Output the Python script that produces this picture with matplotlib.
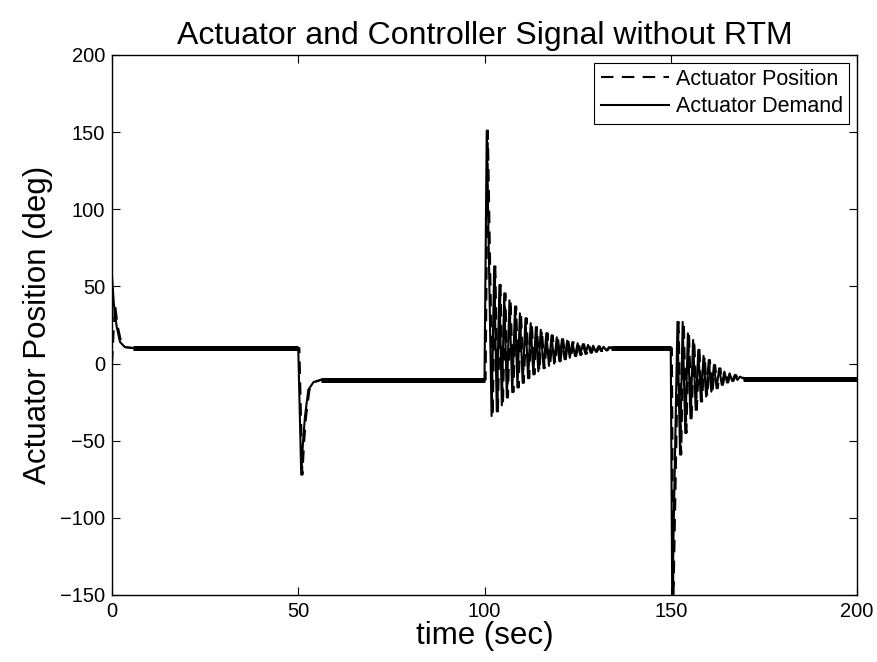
import numpy as np
import matplotlib
matplotlib.use("Agg")
import matplotlib.pyplot as plt

plt.rcParams['font.family'] = ['Liberation Sans', 'DejaVu Sans']

# ---- data (time in s, angle in deg) ----
# actuator demand: start transient, dip at 50 s, spike at 100 s, drop at 150 s
start_t = [0.0, 0.5, 1.25, 2.15, 3.5, 5.7]
start_v = [57, 38.5, 24, 14, 10.6, 10]

dip_t = [50.0, 50.8, 51.3, 51.8, 52.7, 54.1, 56.0]
dip_v = [10, -72, -50, -34.4, -17, -12, -10.5]

spike_t = [100.0, 100.6, 101.9, 102.6, 103.3, 104.0, 104.65, 105.3, 106.0, 106.7,
           107.45, 108.2, 108.85, 109.5, 110.25, 111.0, 111.7, 112.4, 113.1, 113.8,
           114.45, 115.1, 115.85, 116.6, 117.3, 118.0, 118.7, 119.4, 120.1, 120.8,
           121.5, 122.2, 122.9, 123.6, 124.3, 125.0, 125.7, 126.4, 127.1, 127.8,
           128.5, 129.2, 129.9, 130.6, 131.3, 132.0, 132.7, 133.4, 134.0]
spike_v = [-10.5, 151, -34, 63, -31, 51, -27, 45.5, -22, 41,
           -18.5, 37, -15.5, 32.6, -12.5, 29.4, -9.5, 26.2, -7, 23.6,
           -5, 21.9, -3, 19.7, -1.5, 18.3, 0, 17, 1.5, 15.8,
           2.8, 14.8, 3.8, 13.9, 4.8, 13.2, 5.6, 12.6, 6.3, 12.1,
           7, 11.6, 7.6, 11.2, 8.1, 10.9, 8.5, 10.6, 10]

drop_t = [150.0, 150.4, 151.8, 152.5, 153.2, 153.9, 154.6, 155.3, 156.0, 156.7,
          157.4, 158.1, 158.8, 159.5, 160.2, 160.9, 161.6, 162.3, 163.0, 163.7,
          164.4, 165.1, 165.8, 166.5, 167.2, 167.9, 168.6, 169.5]
drop_v = [10, -156, 27, -59, 27, -45, 19.6, -35.5, 15.3, -30,
          8.9, -24.6, 5.0, -21.4, 2.3, -18.2, -0.9, -16, -3.1, -13.8,
          -5.2, -12.3, -6.3, -11.3, -7.4, -10.6, -8.5, -9.7]

end_t = [200.0]
end_v = [-9.7]

# steady-state plateaus (drawn as a thicker band, as in the reference)
plateau_start = [5.7, 56.0, 134.0, 169.5]
plateau_end = [50.0, 100.0, 150.0, 200.0]
plateau_level = [10, -10.5, 10, -9.7]

pos_start_value = 0.0   # actuator position starts at 0
pos_lag = 0.3           # position trails demand by ~0.3 s

dem_t = np.array(start_t + dip_t + spike_t + drop_t + end_t)
dem_v = np.array(start_v + dip_v + spike_v + drop_v + end_v)

pos_t = np.concatenate([[0.0], np.minimum(dem_t[1:] + pos_lag, 200.0)])
pos_v = np.concatenate([[pos_start_value], dem_v[1:]])

yticks = list(range(-150, 201, 50))
xticks = list(range(0, 201, 50))

# ---- figure ----
fig = plt.figure(figsize=(8.77, 6.62), dpi=100)
ax = fig.add_axes([112/877, 1-595/662, 745/877, 540/662])

ax.plot(pos_t, pos_v, color='black', lw=1.5, ls=(0, (6, 4)), label='Actuator Position', zorder=3)
ax.plot(dem_t, dem_v, color='black', lw=1.5, ls='-', label='Actuator Demand', zorder=2)
for a, b, lv in zip(plateau_start, plateau_end, plateau_level):
    ax.plot([a, b], [lv, lv], color='black', lw=3.6, solid_capstyle='butt', zorder=2)

ax.set_xlim(0, 200)
ax.set_ylim(-150, 200)
ax.set_xticks(xticks)
ax.set_yticks(yticks)
ax.set_yticklabels([('\u2212' + str(-v)) if v < 0 else str(v) for v in yticks])
ax.tick_params(direction='in', length=6, width=0.8, top=True, right=True,
               labelsize=14.5, pad=5)
for s in ax.spines.values():
    s.set_linewidth(1.0)

ax.set_title('Actuator and Controller Signal without RTM', fontsize=23, pad=8)
ax.set_xlabel('time (sec)', fontsize=22.5, labelpad=0)
ax.set_ylabel('Actuator Position (deg)', fontsize=22.5, labelpad=5)

leg = ax.legend(loc='upper right', fontsize=15.5, frameon=True, fancybox=False,
                edgecolor='black', framealpha=1, handlelength=3.2,
                borderaxespad=0.35, borderpad=0.3, labelspacing=0.3, handletextpad=0.3)
leg.get_frame().set_linewidth(0.8)

fig.savefig('out.png', dpi=100)
